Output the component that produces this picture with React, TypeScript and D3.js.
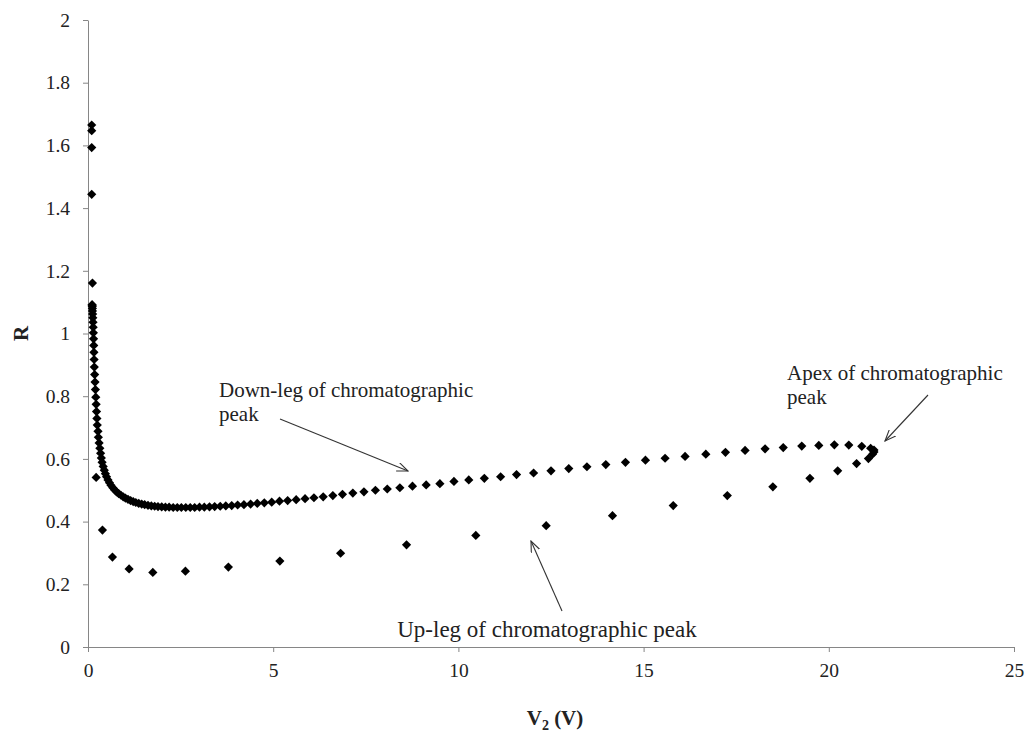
import React, { useEffect, useRef } from "react";
import * as d3 from "d3";

// Up-leg of chromatographic peak (V2 in volts, R)
const upV = [0.10, 0.10, 0.10, 0.10, 0.12, 0.22, 0.39, 0.66, 1.11, 1.75, 2.63, 3.79, 5.18, 6.82, 8.60, 10.47, 12.37, 14.16, 15.80, 17.26, 18.49, 19.49, 20.24, 20.75, 21.07, 21.18, 21.22];
const upR = [1.665, 1.647, 1.593, 1.444, 1.161, 0.541, 0.373, 0.287, 0.249, 0.238, 0.242, 0.255, 0.274, 0.299, 0.326, 0.356, 0.387, 0.419, 0.451, 0.483, 0.511, 0.538, 0.562, 0.585, 0.601, 0.615, 0.622];

// Down-leg of chromatographic peak
const downV = [21.22, 21.13, 20.89, 20.54, 20.15, 19.73, 19.27, 18.77, 18.28, 17.74, 17.21, 16.68, 16.12, 15.58, 15.05, 14.51, 13.98, 13.47, 12.98, 12.50, 12.03, 11.57, 11.14, 10.70, 10.28, 9.88, 9.50, 9.13, 8.76, 8.42, 8.08, 7.76, 7.45, 7.15, 6.87, 6.61, 6.35, 6.10, 5.86, 5.62, 5.39, 5.17, 4.96, 4.76, 4.57, 4.39, 4.21, 4.04, 3.88, 3.72, 3.57, 3.42, 3.28, 3.14, 3.01, 2.88, 2.76, 2.64, 2.52, 2.41, 2.30, 2.19, 2.09, 1.99, 1.89, 1.80, 1.71, 1.62, 1.53, 1.45, 1.37, 1.29, 1.22, 1.15, 1.08, 1.01, 0.95, 0.89, 0.83, 0.77, 0.72, 0.67, 0.62, 0.58, 0.54, 0.50, 0.47, 0.44, 0.41, 0.38, 0.36, 0.34, 0.32, 0.30, 0.28, 0.27, 0.25, 0.24, 0.23, 0.22, 0.21, 0.20, 0.19, 0.18, 0.17, 0.165, 0.16, 0.155, 0.15, 0.145, 0.14, 0.135, 0.13, 0.125, 0.12, 0.118, 0.115, 0.113, 0.11];
const downR = [0.628, 0.634, 0.640, 0.644, 0.645, 0.643, 0.641, 0.636, 0.632, 0.627, 0.621, 0.615, 0.608, 0.602, 0.596, 0.589, 0.582, 0.575, 0.569, 0.562, 0.555, 0.550, 0.543, 0.538, 0.533, 0.528, 0.521, 0.517, 0.513, 0.508, 0.504, 0.500, 0.495, 0.491, 0.487, 0.483, 0.479, 0.476, 0.473, 0.470, 0.467, 0.465, 0.462, 0.460, 0.458, 0.456, 0.454, 0.453, 0.451, 0.450, 0.449, 0.448, 0.447, 0.446, 0.446, 0.445, 0.445, 0.445, 0.445, 0.445, 0.445, 0.446, 0.446, 0.447, 0.448, 0.449, 0.450, 0.452, 0.454, 0.456, 0.458, 0.461, 0.464, 0.467, 0.471, 0.475, 0.479, 0.484, 0.489, 0.495, 0.501, 0.508, 0.516, 0.524, 0.533, 0.543, 0.553, 0.564, 0.576, 0.589, 0.603, 0.618, 0.634, 0.651, 0.669, 0.688, 0.708, 0.729, 0.751, 0.774, 0.797, 0.821, 0.845, 0.869, 0.893, 0.917, 0.940, 0.962, 0.983, 1.002, 1.020, 1.036, 1.050, 1.062, 1.072, 1.080, 1.086, 1.090, 1.092];

const xTicks = [0, 5, 10, 15, 20, 25];
const yTicks = [0, 0.2, 0.4, 0.6, 0.8, 1, 1.2, 1.4, 1.6, 1.8, 2];

const W = 1029;
const H = 738;
const AXIS = "#868686";
const SERIF = "'Liberation Serif', 'Times New Roman', serif";

export default function App() {
  const xAxisRef = useRef<SVGGElement>(null);
  const yAxisRef = useRef<SVGGElement>(null);

  const x = d3.scaleLinear().domain([0, 25]).range([88, 1014]);
  const y = d3.scaleLinear().domain([0, 2]).range([647, 20]);

  useEffect(() => {
    const xa = d3.select(xAxisRef.current!);
    xa.call(
      d3.axisBottom(x).tickValues(xTicks).tickSize(5).tickSizeOuter(0).tickPadding(11).tickFormat((d) => String(d))
    );
    xa.select(".domain").attr("stroke", AXIS);
    xa.selectAll(".tick line").attr("stroke", AXIS);
    xa.selectAll(".tick text")
      .attr("font-family", SERIF)
      .attr("font-size", 19.5)
      .attr("fill", "#222");

    const ya = d3.select(yAxisRef.current!);
    ya.call(
      d3.axisLeft(y).tickValues(yTicks).tickSize(5).tickSizeOuter(0).tickPadding(13).tickFormat((d) => String(+(+d).toFixed(1)))
    );
    ya.select(".domain").attr("stroke", AXIS);
    ya.selectAll(".tick line").attr("stroke", AXIS);
    ya.selectAll(".tick text")
      .attr("font-family", SERIF)
      .attr("font-size", 19.5)
      .attr("fill", "#222");
  }, []);

  const s = 4.6;
  const diamond = `M0,${-s}L${s},0L0,${s}L${-s},0Z`;

  const pts = [
    ...upV.map((v, i) => [v, upR[i]]),
    ...downV.map((v, i) => [v, downR[i]]),
  ];

  return (
    <svg width={W} height={H} style={{ position: "absolute", left: 0, top: 0, background: "#fff" }}>
      <defs>
        <marker id="arr" viewBox="0 0 12 10" refX="11" refY="5" markerWidth="12" markerHeight="10" markerUnits="userSpaceOnUse" orient="auto">
          <path d="M0,0.5 L11,5 L0,9.5" fill="none" stroke="#333" strokeWidth="1.1" />
        </marker>
      </defs>
      <rect x={0} y={0} width={W} height={H} fill="#fff" />
      <g ref={yAxisRef} transform={`translate(${x(0)},0)`} />
      <g ref={xAxisRef} transform={`translate(0,${y(0)})`} />

      {pts.map(([v, r], i) => (
        <path key={i} d={diamond} transform={`translate(${x(v)},${y(r)})`} fill="#000" />
      ))}

      {/* Annotations */}
      <g fontFamily={SERIF} fontSize={21} fill="#222">
        <text x={219} y={397}>Down-leg of chromatographic</text>
        <text x={219} y={421}>peak</text>
        <text x={787} y={380}>Apex of chromatographic</text>
        <text x={787} y={404}>peak</text>
        <text x={547} y={637} fontSize={23} textAnchor="middle">Up-leg of chromatographic peak</text>
      </g>
      <g stroke="#333" strokeWidth={1.1}>
        <line x1={280} y1={419} x2={408} y2={471} markerEnd="url(#arr)" />
        <line x1={928} y1={395} x2={885} y2={441} markerEnd="url(#arr)" />
        <line x1={562} y1={611} x2={531} y2={541} markerEnd="url(#arr)" />
      </g>

      {/* Axis titles */}
      <text x={555} y={725} textAnchor="middle" fontFamily={SERIF} fontWeight="bold" fontSize={21} fill="#222">
        V<tspan fontSize={14} dy={5}>2</tspan>
        <tspan dy={-5}> (V)</tspan>
      </text>
      <text transform={`translate(28,${y(1)}) rotate(-90)`} textAnchor="middle" fontFamily={SERIF} fontWeight="bold" fontSize={21} fill="#222">
        R
      </text>
    </svg>
  );
}
